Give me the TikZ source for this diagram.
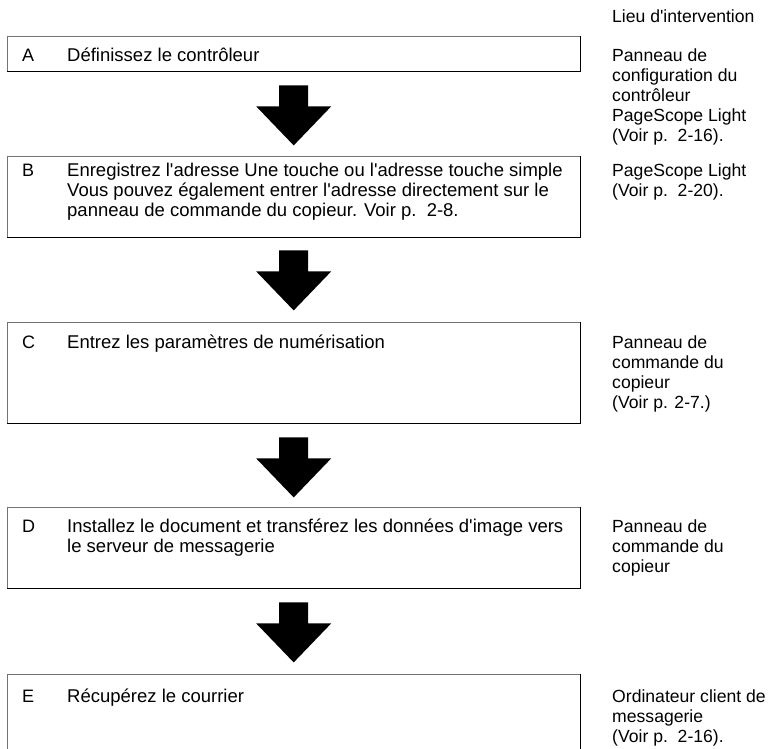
\documentclass[tikz,border=0pt]{standalone}
\usepackage{fontspec}
\setmainfont{Liberation Sans}
\usetikzlibrary{calc}
\newcommand{\lines}[1]{\begin{tabular}[t]{@{}l@{}}#1\end{tabular}}
\newcommand{\ap}{\textquotesingle}
\tikzset{
  stepbox/.style={rectangle, draw=none, inner sep=0pt, minimum width=573pt, anchor=north west},
  lightedge/.style={draw=black!55, line width=1pt},
  darkedge/.style={draw=black, line width=1.3pt},
  letter/.style={anchor=base west, inner sep=0pt, font=\fontsize{18}{20}\selectfont},
  body/.style={anchor=base west, inner sep=0pt, font=\fontsize{18.5}{20}\selectfont},
  side/.style={anchor=base west, inner sep=0pt, font=\fontsize{17.6}{20}\selectfont},
  pics/blockarrow/.style={code={
    \fill[black] (-14.5,0) -- (14.5,0) -- (14.5,21) -- (37.5,21) -- (0,60) -- (-37.5,21) -- (-14.5,21) -- cycle;}}
}
\begin{document}
\begin{tikzpicture}[x=1pt,y=-1pt]
\useasboundingbox (0,0) rectangle (770,748);

% boxes
\node[stepbox, minimum height=35pt] (A) at (7,36) {};
\node[stepbox, minimum height=81pt] (B) at (7,156) {};
\node[stepbox, minimum height=101pt] (C) at (7,322) {};
\node[stepbox, minimum height=81pt] (D) at (7,507) {};
\node[stepbox, minimum height=90pt] (E) at (7,674) {};

\foreach \b in {A,B,C,D}{
  \draw[lightedge] (\b.south west) |- (\b.north east);
  \draw[darkedge] (\b.north east) |- (\b.south west);
}
\draw[lightedge] (E.south west) |- (E.north east);
\draw[darkedge] (E.north east) -- (E.south east);

% arrows
\pic at ($(A.south)+(0,14)$) {blockarrow};
\pic at ($(B.south)+(0,13)$) {blockarrow};
\pic at ($(C.south)+(0,14)$) {blockarrow};
\pic at ($(D.south)+(0,14)$) {blockarrow};

% header
\node[side] (head) at (612,22) {Lieu d\ap intervention};

% step letters and texts
\node[letter] (lA) at (22,61) {A};
\node[body] (tA) at (67,61) {Définissez le contrôleur};
\node[side] (rA) at (612,61) {\lines{Panneau de\\configuration du\\contrôleur\\PageScope Light\\(Voir p.~~2-16).}};

\node[letter] (lB) at (22,176) {B};
\node[body] (tB) at (67,176) {\lines{Enregistrez l\ap adresse Une touche ou l\ap adresse touche simple\\Vous pouvez également entrer l\ap adresse directement sur le\\panneau de commande du copieur. Voir p.~~2-8.}};
\node[side] (rB) at (612,176) {\lines{PageScope Light\\(Voir p.~~2-20).}};

\node[letter] (lC) at (22,348) {C};
\node[body] (tC) at (67,348) {Entrez les paramètres de numérisation};
\node[side] (rC) at (612,348) {\lines{Panneau de\\commande du\\copieur\\(Voir p. 2-7.)}};

\node[letter] (lD) at (22,532) {D};
\node[body] (tD) at (67,532) {\lines{Installez le document et transférez les données d\ap image vers\\le serveur de messagerie}};
\node[side] (rD) at (612,532) {\lines{Panneau de\\commande du\\copieur}};

\node[letter] (lE) at (22,702) {E};
\node[body] (tE) at (67,702) {Récupérez le courrier};
\node[side] (rE) at (612,702) {\lines{Ordinateur client de\\messagerie\\(Voir p.~~2-16).}};
\end{tikzpicture}
\end{document}
